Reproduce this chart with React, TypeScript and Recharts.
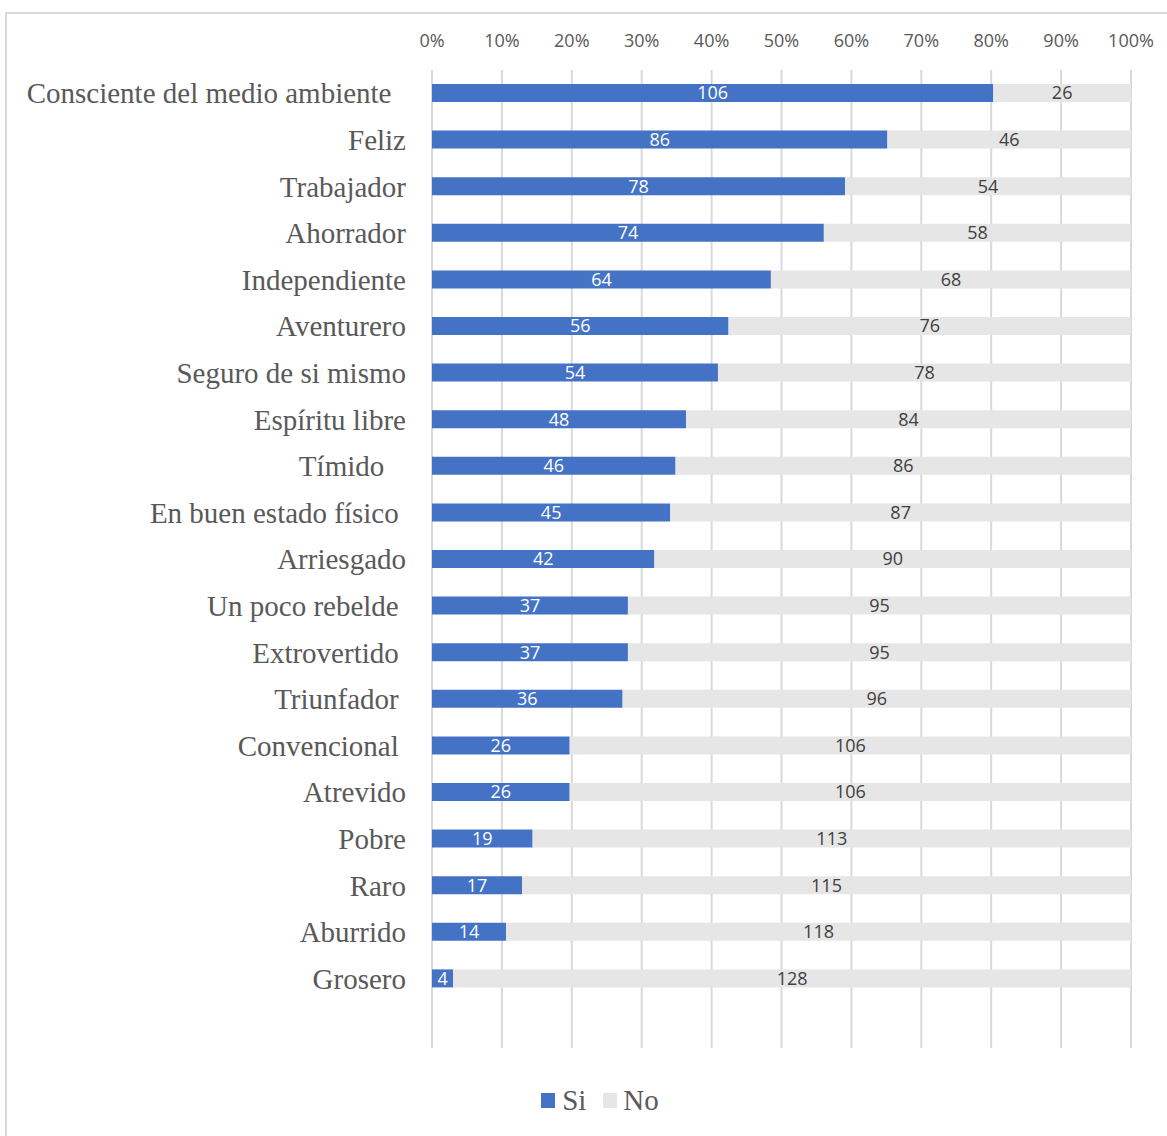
import { BarChart, Bar, XAxis, YAxis, CartesianGrid, LabelList } from "recharts";

const NB = "\u00A0";

const CATEGORIES = [
  "Consciente del medio ambiente" + NB + NB,
  "Feliz",
  "Trabajador",
  "Ahorrador",
  "Independiente",
  "Aventurero",
  "Seguro de si mismo",
  "Espíritu libre",
  "Tímido" + NB + NB + NB,
  "En buen estado físico" + NB,
  "Arriesgado",
  "Un poco rebelde" + NB,
  "Extrovertido" + NB,
  "Triunfador" + NB,
  "Convencional" + NB,
  "Atrevido",
  "Pobre",
  "Raro",
  "Aburrido",
  "Grosero",
];

const SI = [106, 86, 78, 74, 64, 56, 54, 48, 46, 45, 42, 37, 37, 36, 26, 26, 19, 17, 14, 4];
const NO = [26, 46, 54, 58, 68, 76, 78, 84, 86, 87, 90, 95, 95, 96, 106, 106, 113, 115, 118, 128];

const PCT_TICKS = [0, 0.1, 0.2, 0.3, 0.4, 0.5, 0.6, 0.7, 0.8, 0.9, 1];

const BLUE = "#4472C4";
const GRAY = "#E6E6E6";
const SERIF = "'Liberation Serif', 'Times New Roman', serif";
const SANS = "'Open Sans', 'Noto Sans', sans-serif";

const data = CATEGORIES.map((name, i) => ({ name, si: SI[i], no: NO[i] }));

function CategoryTick({ x, y, payload }: { x?: number; y?: number; payload?: { value: string } }) {
  return (
    <text
      x={x}
      y={y}
      textAnchor="end"
      dominantBaseline="central"
      fontFamily={SERIF}
      fontSize={29}
      fill="#595959"
    >
      {payload?.value}
    </text>
  );
}

export default function App() {
  return (
    <div
      style={{
        position: "absolute",
        left: 0,
        top: 0,
        width: 1167,
        height: 1136,
        overflow: "hidden",
        background: "#fff",
      }}
    >
      <div
        style={{
          position: "absolute",
          left: 5,
          top: 12,
          width: 1200,
          height: 1200,
          border: "2px solid #D9D9D9",
        }}
      />
      <div style={{ position: "absolute", left: 0, top: 0 }}>
        <BarChart
          width={1167}
          height={1136}
          data={data}
          layout="vertical"
          stackOffset="expand"
          margin={{ top: 40, right: 36, left: 12, bottom: 88 }}
          barSize={18}
        >
          <CartesianGrid horizontal={false} stroke="#D9D9D9" strokeWidth={2} />
          <XAxis
            type="number"
            orientation="top"
            domain={[0, 1]}
            ticks={PCT_TICKS}
            tickFormatter={(v: number) => `${Math.round(v * 100)}%`}
            axisLine={false}
            tickLine={false}
            tickSize={0}
            tickMargin={23}
            height={30}
            tick={{ fill: "#595959", fontSize: 18, fontFamily: SANS }}
            interval={0}
          />
          <YAxis
            type="category"
            dataKey="name"
            width={420}
            axisLine={false}
            tickLine={false}
            tickSize={0}
            tickMargin={26}
            interval={0}
            padding={{ top: 0, bottom: 46 }}
            tick={<CategoryTick />}
          />
          <Bar dataKey="si" stackId="a" fill={BLUE} isAnimationActive={false}>
            <LabelList
              dataKey="si"
              position="center"
              fill="#FFFFFF"
              fontSize={18}
              fontFamily={SANS}
            />
          </Bar>
          <Bar dataKey="no" stackId="a" fill={GRAY} isAnimationActive={false}>
            <LabelList
              dataKey="no"
              position="center"
              fill="#404040"
              fontSize={18}
              fontFamily={SANS}
            />
          </Bar>
        </BarChart>
      </div>
      <div
        style={{
          position: "absolute",
          left: 0,
          top: 1084,
          width: 1200,
          display: "flex",
          justifyContent: "center",
          alignItems: "center",
          fontFamily: SERIF,
          fontSize: 29,
          color: "#595959",
        }}
      >
        <span style={{ display: "inline-block", width: 14, height: 15, background: BLUE, marginRight: 7 }} />
        <span>Si</span>
        <span
          style={{ display: "inline-block", width: 14, height: 15, background: GRAY, marginLeft: 17, marginRight: 6 }}
        />
        <span>No</span>
      </div>
    </div>
  );
}
